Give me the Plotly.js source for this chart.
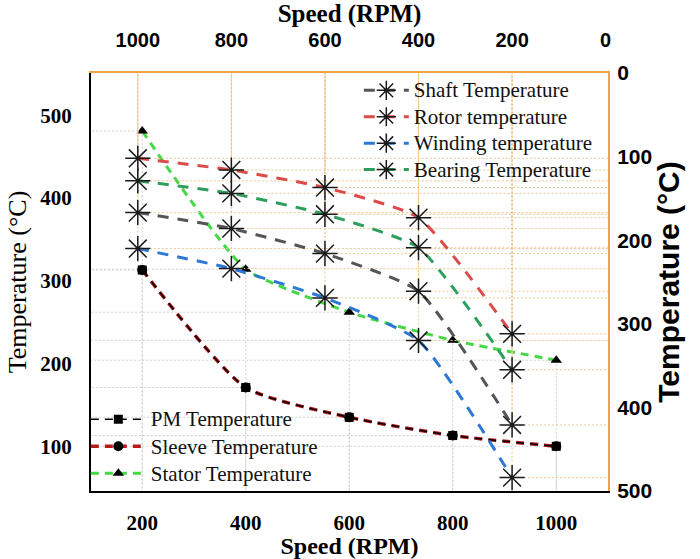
<!DOCTYPE html>
<html>
<head>
<meta charset="utf-8">
<script src="https://cdn.plot.ly/plotly-3.0.1.min.js"></script>
<style>html,body{margin:0;padding:0;background:#fff}#chart{width:700px;height:559px}</style>
</head>
<body>
<div id="chart"></div>
<script>
// ---- data (top / right axes: star series) ----
const topSpeed = [1000, 800, 600, 400, 200];
const shaftTemp = [167, 186, 216, 261, 421];
const rotorTemp = [102, 116, 137, 173, 312];
const windingTemp = [210, 234, 269, 320, 484];
const bearingTemp = [129, 144, 169, 209, 355];

// ---- data (bottom / left axes) ----
const bottomSpeed = [200, 400, 600, 800, 1000];
const pmTemp = [313, 171, 135, 113, 100];
const sleeveTemp = [313, 171, 135, 113, 100];
const statorTemp = [481, 314, 262, 228, 204];

// ---- tick labels ----
const bottomTicks = [200, 400, 600, 800, 1000];
const leftTicks = [100, 200, 300, 400, 500];
const topTicks = [1000, 800, 600, 400, 200, 0];
const rightTicks = [0, 100, 200, 300, 400, 500];

const xRange = [101, 1100];
const yRange = [46, 551];
const x2Range = [1100, -5];
const y2Range = [500, 0];

const SERIF = '"Liberation Serif", "Times New Roman", serif';
const SANS = '"Liberation Sans", Arial, sans-serif';
const ORANGE = '#f0a445';

function dropLines(xs, ys, xEnd, yEnd) {
  const hx = [], hy = [];
  xs.forEach((x, i) => {
    hx.push(x, xEnd, null, x, x, null);
    hy.push(ys[i], ys[i], null, ys[i], yEnd, null);
  });
  return {x: hx, y: hy};
}
function big(t) { return '<span style="font-size:21px">' + t + '</span>'; }

const traces = [];
[shaftTemp, rotorTemp, windingTemp, bearingTemp].forEach(s => {
  const d = dropLines(topSpeed, s, x2Range[1], y2Range[1]);
  traces.push({x: d.x, y: d.y, xaxis: 'x2', yaxis: 'y2', mode: 'lines', showlegend: false,
    hoverinfo: 'skip', line: {color: '#ecc890', width: 1, dash: '2px,2px'}});
});
[pmTemp, statorTemp].forEach(s => {
  const d = dropLines(bottomSpeed, s, xRange[0], yRange[0]);
  traces.push({x: d.x, y: d.y, xaxis: 'x', yaxis: 'y', mode: 'lines', showlegend: false,
    hoverinfo: 'skip', line: {color: '#d0d0d0', width: 1, dash: '2px,2px'}});
});

const starMarker = {symbol: 'asterisk-open', size: 21, color: '#1a1a1a', line: {width: 1.5, color: '#1a1a1a'}};
const starSeries = [
  ['Shaft Temperature', shaftTemp, '#555555'],
  ['Rotor temperature', rotorTemp, '#dc4a4a'],
  ['Winding temperature', windingTemp, '#2c78d4'],
  ['Bearing Temperature', bearingTemp, '#2e9e5e']
];
starSeries.forEach(([name, vals, col]) => {
  traces.push({x: topSpeed, y: vals, name: big(name), xaxis: 'x2', yaxis: 'y2', mode: 'lines+markers',
    line: {color: col, width: 3, dash: '11px,9px', shape: 'spline', smoothing: 0.5},
    marker: starMarker, legend: 'legend'});
});

traces.push({x: bottomSpeed, y: sleeveTemp, name: big('Sleeve Temperature'), mode: 'lines+markers',
  line: {color: '#b51c1c', width: 3.5, dash: '8px,6px', shape: 'spline', smoothing: 0.6},
  marker: {symbol: 'circle', size: 10, color: '#000'}, legend: 'legend2', legendrank: 2});
traces.push({x: bottomSpeed, y: pmTemp, name: big('PM Temperature'), mode: 'lines+markers',
  line: {color: '#000000', width: 1.5, dash: '8px,6px', shape: 'spline', smoothing: 0.6},
  marker: {symbol: 'square', size: 9, color: '#000'}, legend: 'legend2', legendrank: 1});
traces.push({x: bottomSpeed, y: statorTemp, name: big('Stator Temperature'), mode: 'lines+markers',
  line: {color: '#44d844', width: 3, dash: '8px,6px', shape: 'spline', smoothing: 0.5},
  marker: {symbol: 'triangle-up', size: 10, color: '#000'}, legend: 'legend2', legendrank: 3});

const layout = {
  width: 700, height: 559,
  margin: {l: 91, r: 92, t: 73, b: 68, pad: 0},
  paper_bgcolor: '#fff', plot_bgcolor: '#fff',
  showlegend: true,
  xaxis: {range: xRange, tickvals: bottomTicks, ticks: 'outside', ticklen: 12, tickcolor: 'rgba(0,0,0,0)',
    showgrid: false, zeroline: false, showline: true, linecolor: '#000', linewidth: 2,
    tickfont: {family: SERIF, size: 21, color: '#000', weight: 'bold'},
    title: {text: '<b>Speed (RPM)</b>', font: {family: SERIF, size: 24, color: '#000'}, standoff: 2}},
  yaxis: {range: yRange, tickvals: leftTicks, ticks: 'outside', ticklen: 13, tickcolor: 'rgba(0,0,0,0)',
    showgrid: false, zeroline: false, showline: true, linecolor: '#000', linewidth: 2,
    tickfont: {family: SERIF, size: 21, color: '#000', weight: 'bold'},
    title: {text: 'Temperature (°C)', font: {family: SERIF, size: 26, color: '#000'}, standoff: 6}},
  xaxis2: {range: x2Range, tickvals: topTicks, overlaying: 'x', side: 'top', anchor: 'y2',
    ticks: 'outside', ticklen: 16, tickcolor: 'rgba(0,0,0,0)',
    showgrid: false, zeroline: false, showline: true, linecolor: ORANGE, linewidth: 2,
    tickfont: {family: SANS, size: 20, color: '#000', weight: 'bold'},
    title: {text: '<b>Speed (RPM)</b>', font: {family: SERIF, size: 25, color: '#000'}, standoff: 1}},
  yaxis2: {range: y2Range, tickvals: rightTicks, overlaying: 'y', side: 'right', anchor: 'x2',
    ticks: 'outside', ticklen: 3, tickcolor: 'rgba(0,0,0,0)',
    showgrid: false, zeroline: false, showline: true, linecolor: ORANGE, linewidth: 2,
    tickfont: {family: SANS, size: 21, color: '#000', weight: 'bold'},
    title: {text: '<b>Temperature (°C)</b>', font: {family: SANS, size: 30, color: '#000'}, standoff: 6}},
  legend: {x: 0.518, y: 1.002, xanchor: 'left', yanchor: 'top', bgcolor: 'rgba(0,0,0,0)',
    font: {family: SERIF, size: 18, color: '#111'}, itemwidth: 45, tracegroupgap: 0},
  legend2: {x: -0.01, y: 0.216, xanchor: 'left', yanchor: 'top', bgcolor: 'rgba(0,0,0,0)',
    font: {family: SERIF, size: 18.5, color: '#111'}, itemwidth: 55, traceorder: 'normal'}
};

Plotly.newPlot('chart', traces, layout, {staticPlot: true, displayModeBar: false});
</script>
</body>
</html>
